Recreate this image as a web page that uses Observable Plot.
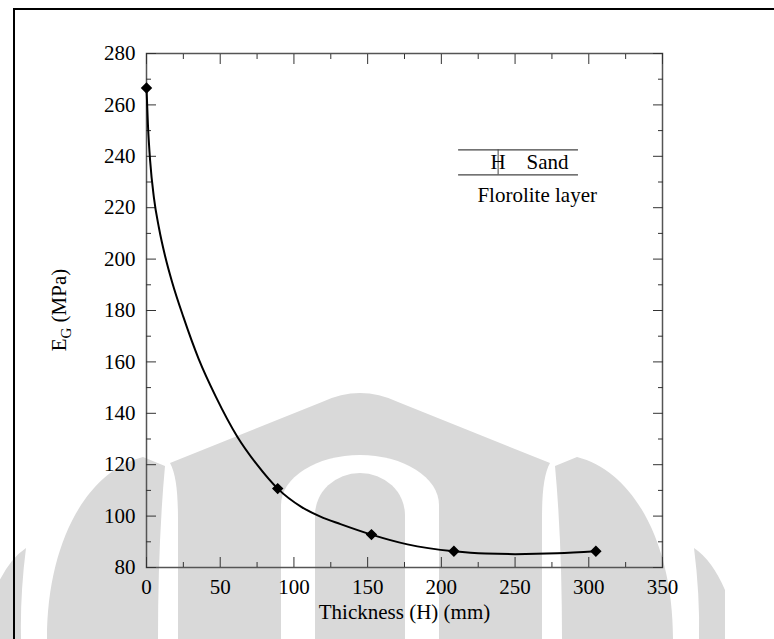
<!DOCTYPE html>
<html><head><meta charset="utf-8">
<script src="https://cdn.jsdelivr.net/npm/d3@7"></script>
<script src="https://cdn.jsdelivr.net/npm/@observablehq/plot@0.6"></script>
<style>
body{margin:0;background:#fff;overflow:hidden;}
#wm{position:absolute;left:0;top:0;}
#chart{position:absolute;left:0;top:0;}
#chart svg text, #chart svg tspan{font-family:"Liberation Serif","Tinos","Times New Roman","Noto Serif","DejaVu Serif",serif !important;}
#frame{position:absolute;left:13px;top:8px;width:800px;height:700px;border-left:2px solid #000;border-top:2px solid #000;pointer-events:none;}
</style>
</head><body>
<svg id="wm" width="774" height="639"></svg>
<div id="chart"></div><div id="frame"></div>
<script>
// measured points
const pointThickness = [0, 89, 152.6, 208.5, 304.8];
const pointModulus = [266.6, 110.7, 92.8, 86.3, 86.3];
// fitted curve
const curveThickness = [0, 1, 2.5, 5, 8.5, 12.9, 17.4, 25, 35.5, 47, 61.5, 75, 89, 105, 118, 131.6, 152.6, 177, 208.5, 230, 250, 278.6, 304.8];
const curveModulus = [266.6, 252, 238, 224, 212, 200.5, 191, 177.5, 161, 146.5, 131, 120, 110.7, 103.6, 99.8, 96.9, 92.8, 89.0, 86.3, 85.4, 85.2, 85.5, 86.3];
// ticks
const xMajorTicks = [0, 50, 100, 150, 200, 250, 300, 350];
const xMinorTicks = [25, 75, 125, 175, 225, 275, 325];
const yMajorTicks = [80, 100, 120, 140, 160, 180, 200, 220, 240, 260, 280];
const yMinorTicks = [90, 110, 130, 150, 170, 190, 210, 230, 250, 270];
// inset sketch
const insetLineX = [211.7, 293];
const insetLineY = [242.5, 232.8];
const insetMarkX = 238.5;
const insetH = "H";
const insetSand = "Sand";
const insetSandX = 257.8;
const insetLayer = "Florolite layer";
const insetLayerX = 265;
const insetLayerY = 224.7;
const xLabel = "Thickness (H) (mm)";

// background watermark (decorative page graphic, not chart data)
(function(){
  const wm = d3.select("#wm");
  const grey = "#d9d9d9";
  const shapes = [
    {d: "M-5,639 L-5,590 Q8,560 26,548 Q20,595 21,639 Z", c: grey},
    {d: "M725,639 L725,590 Q712,560 694,548 Q700,595 699,639 Z", c: grey},
    {d: "M47,639 C47,545 85,472 143,457 L165,466 C160,520 158,580 158,639 Z", c: grey},
    {d: "M673,639 C673,545 635,472 577,457 L555,466 C560,520 562,580 562,639 Z", c: grey},
    {d: "M178,639 L178,520 C178,492 176,474 170,463 L322,402 Q360,384 398,402 L550,463 C544,474 542,492 542,520 L542,639 Z", c: grey},
    {d: "M281,639 L281,505 A79,50 0 0 1 439,505 L439,639 Z", c: "#fff"},
    {d: "M315,639 L315,515 A45,42 0 0 1 405,515 L405,639 Z", c: grey}
  ];
  for (const s of shapes) wm.append("path").attr("d", s.d).attr("fill", s.c);
})();

const points = pointThickness.map((x, i) => ({x, y: pointModulus[i]}));
const curve = curveThickness.map((x, i) => ({x, y: curveModulus[i]}));
const insetRules = insetLineY.map(y => ({y, x1: insetLineX[0], x2: insetLineX[1]}));
const hY = (insetLineY[0] + insetLineY[1]) / 2;

const serif = "Liberation Serif, Tinos, Times New Roman, Noto Serif, DejaVu Serif, serif";
const fs = 21;
const tickStroke = "#333";
const plot = Plot.plot({
  width: 774, height: 639,
  marginLeft: 146, marginRight: 112, marginTop: 53, marginBottom: 72,
  style: {fontSize: fs + "px", color: "#000", background: "transparent"},
  x: {domain: [0, 350]},
  y: {domain: [80, 280]},
  marks: [
    Plot.frame({stroke: "#555", strokeWidth: 1.5}),
    Plot.axisX(xMajorTicks, {anchor: "bottom", tickSize: -10, text: null, stroke: tickStroke, label: null}),
    Plot.axisX(xMinorTicks, {anchor: "bottom", tickSize: -5, text: null, stroke: tickStroke, label: null}),
    Plot.axisX(xMajorTicks, {anchor: "top", tickSize: -10, text: null, stroke: tickStroke, label: null}),
    Plot.axisX(xMinorTicks, {anchor: "top", tickSize: -5, text: null, stroke: tickStroke, label: null}),
    Plot.axisX(xMajorTicks, {anchor: "bottom", tickSize: 0, tickPadding: 12, label: null, fill: "#000", fontSize: fs, fontFamily: serif}),
    Plot.axisY(yMajorTicks, {anchor: "left", tickSize: -10, text: null, stroke: tickStroke, label: null}),
    Plot.axisY(yMinorTicks, {anchor: "left", tickSize: -5, text: null, stroke: tickStroke, label: null}),
    Plot.axisY(yMajorTicks, {anchor: "right", tickSize: -10, text: null, stroke: tickStroke, label: null}),
    Plot.axisY(yMinorTicks, {anchor: "right", tickSize: -5, text: null, stroke: tickStroke, label: null}),
    Plot.axisY(yMajorTicks, {anchor: "left", tickSize: 0, tickPadding: 11, label: null, fill: "#000", fontSize: fs, fontFamily: serif}),
    Plot.line(curve, {x: "x", y: "y", curve: "monotone-x", stroke: "#000", strokeWidth: 2}),
    Plot.dot(points, {x: "x", y: "y", symbol: "diamond2", r: 4.2, fill: "#000", stroke: "#000"}),
    Plot.ruleY(insetRules, {y: "y", x1: "x1", x2: "x2", stroke: "#444", strokeWidth: 1.2}),
    Plot.ruleX([insetMarkX], {y1: insetLineY[1], y2: insetLineY[0], stroke: "#444", strokeWidth: 1}),
    Plot.text([insetH], {x: insetMarkX, y: hY, textAnchor: "middle", fill: "#000", fontSize: fs, fontFamily: serif}),
    Plot.text([insetSand], {x: insetSandX, y: hY, textAnchor: "start", fill: "#000", fontSize: fs, fontFamily: serif}),
    Plot.text([insetLayer], {x: insetLayerX, y: insetLayerY, textAnchor: "middle", fill: "#000", fontSize: fs, fontFamily: serif}),
    Plot.text([xLabel], {frameAnchor: "bottom", dy: 51, fill: "#000", fontSize: fs, fontFamily: serif})
  ]
});
document.getElementById("chart").appendChild(plot);

// y-axis title with subscript
const svg = d3.select(plot);
const yScale = plot.scale("y");
const yMid = (yScale.range[0] + yScale.range[1]) / 2;
const t = svg.append("text")
  .attr("transform", `translate(66,${yMid}) rotate(-90)`)
  .attr("text-anchor", "middle")
  .attr("fill", "#000")
  .attr("font-family", serif)
  .attr("font-size", fs);
t.append("tspan").text("E");
t.append("tspan").attr("font-size", 15).attr("dy", 5).text("G");
t.append("tspan").attr("dy", -5).text(" (MPa)");
</script>
</body></html>
